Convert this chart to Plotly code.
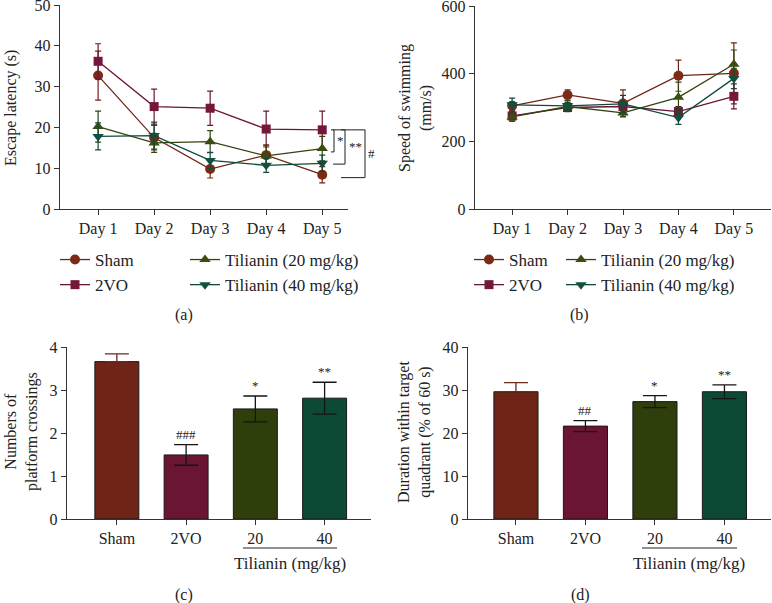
import plotly.graph_objects as go

W, H = 772, 603
FONT = "Liberation Serif"

# ---------------- data ----------------
days = ["Day 1", "Day 2", "Day 3", "Day 4", "Day 5"]
groups = ["Sham", "2VO", "Tilianin (20 mg/kg)", "Tilianin (40 mg/kg)"]

# (a) escape latency (s)
lat_sham = [32.7, 17.5, 9.8, 13.2, 8.4]
lat_sham_err = [6.0, 3.0, 2.2, 2.5, 2.0]
lat_2vo = [36.2, 25.1, 24.7, 19.6, 19.4]
lat_2vo_err = [4.3, 4.3, 4.2, 4.4, 4.6]
lat_t20 = [20.2, 16.2, 16.5, 13.0, 14.8]
lat_t20_err = [3.8, 2.3, 2.7, 2.5, 3.0]
lat_t40 = [17.8, 18.0, 11.9, 10.7, 11.2]
lat_t40_err = [3.3, 3.3, 2.0, 1.7, 2.0]

# (b) swimming speed (mm/s)
spd_sham = [305, 337, 312, 394, 401]
spd_sham_err = [12, 15, 40, 46, 90]
spd_2vo = [275, 300, 303, 288, 333]
spd_2vo_err = [15, 12, 12, 15, 37]
spd_t20 = [272, 303, 284, 330, 428]
spd_t20_err = [12, 12, 10, 45, 42]
spd_t40 = [308, 305, 311, 270, 386]
spd_t40_err = [20, 15, 25, 20, 30]

# (c) platform crossings, (d) target-quadrant duration
bar_labels = ["Sham", "2VO", "20", "40"]
cross = [3.66, 1.49, 2.56, 2.81]
cross_err = [0.18, 0.24, 0.30, 0.37]
cross_sig = ["", "###", "*", "**"]
dur = [29.6, 21.6, 27.3, 29.6]
dur_err = [2.1, 1.3, 1.4, 1.6]
dur_sig = ["", "##", "*", "**"]

line_colors = ["#6e2416", "#6b1535", "#33440f", "#0f4a38"]
marker_colors = ["#7c2a14", "#74173a", "#3a4c10", "#115040"]
bar_colors = ["#6e2416", "#6b1535", "#2f3f0c", "#0d4a35"]
symbols = ["circle", "square", "triangle-up", "triangle-down"]

# ---------------- geometry (pixels -> paper) ----------------
def px(x):
    return x / W

def py(y):
    return 1 - y / H

dom = {
    "a": dict(x=[px(60), px(348)], y=[py(209), py(5)]),
    "b": dict(x=[px(475), px(771)], y=[py(209), py(6)]),
    "c": dict(x=[px(67), px(371)], y=[py(519), py(347)]),
    "d": dict(x=[px(468), px(771)], y=[py(519), py(347)]),
}
rng = {
    "a": dict(x=[-0.68, 4.46], y=[0, 50]),
    "b": dict(x=[-0.67, 4.67], y=[0, 600]),
    "c": dict(x=[-0.72, 3.67], y=[0, 4]),
    "d": dict(x=[-0.69, 3.67], y=[0, 40]),
}

def ypaper(panel, v):
    d, r = dom[panel]["y"], rng[panel]["y"]
    return d[0] + (v - r[0]) / (r[1] - r[0]) * (d[1] - d[0])

fig = go.Figure()

# ---------------- line panels ----------------
xs = list(range(len(days)))
lat = [(lat_sham, lat_sham_err), (lat_2vo, lat_2vo_err), (lat_t20, lat_t20_err), (lat_t40, lat_t40_err)]
spd = [(spd_sham, spd_sham_err), (spd_2vo, spd_2vo_err), (spd_t20, spd_t20_err), (spd_t40, spd_t40_err)]
leg_a = ["legend", "legend", "legend2", "legend2"]
leg_b = ["legend3", "legend3", "legend4", "legend4"]

for data, xa, ya, legs in [(lat, "x", "y", leg_a), (spd, "x2", "y2", leg_b)]:
    for i, (vals, errs) in enumerate(data):
        fig.add_trace(go.Scatter(
            x=xs, y=vals, xaxis=xa, yaxis=ya, name=groups[i], legend=legs[i],
            mode="lines+markers",
            line=dict(color=line_colors[i], width=1.3),
            marker=dict(symbol=symbols[i], size=10 if i != 1 else 9, color=marker_colors[i]),
            error_y=dict(type="data", array=errs, color=line_colors[i], thickness=1.2, width=3),
        ))

# ---------------- bar panels ----------------
for vals, errs, sigs, xa, ya in [(cross, cross_err, cross_sig, "x3", "y3"), (dur, dur_err, dur_sig, "x4", "y4")]:
    for i in range(len(bar_labels)):
        if i == 0:
            ey = dict(type="data", array=[errs[i]], arrayminus=[0], symmetric=False,
                      color="#6a2a1c", thickness=1.3, width=12)
        else:
            ey = dict(type="data", array=[errs[i]], color="#151515", thickness=1.3, width=12)
        fig.add_trace(go.Bar(
            x=[i], y=[vals[i]], xaxis=xa, yaxis=ya, width=0.635, showlegend=False,
            marker=dict(color=bar_colors[i], line=dict(color="#1a1a1a", width=1)),
            error_y=ey,
        ))
        if sigs[i]:
            fig.add_annotation(x=i, y=vals[i] + errs[i], xref=xa, yref=ya, text=sigs[i],
                               showarrow=False, yanchor="bottom", yshift=1,
                               font=dict(family=FONT, size=13, color="#222222"))

# ---------------- axes ----------------
axis_common = dict(showline=True, linecolor="#333", linewidth=1.4, ticks="outside",
                   ticklen=5, tickwidth=1.3, tickcolor="#333", showgrid=False, zeroline=False,
                   automargin=False, ticklabeloverflow="allow",
                   tickfont=dict(family=FONT, size=16, color="#222"))

fig.update_layout(
    xaxis=dict(domain=dom["a"]["x"], range=rng["a"]["x"], anchor="y", tickvals=xs, ticktext=days, **axis_common),
    yaxis=dict(domain=dom["a"]["y"], range=rng["a"]["y"], anchor="x", tickvals=[0, 10, 20, 30, 40, 50], **axis_common),
    xaxis2=dict(domain=dom["b"]["x"], range=rng["b"]["x"], anchor="y2", tickvals=xs, ticktext=days, **axis_common),
    yaxis2=dict(domain=dom["b"]["y"], range=rng["b"]["y"], anchor="x2", tickvals=[0, 200, 400, 600], **axis_common),
    xaxis3=dict(domain=dom["c"]["x"], range=rng["c"]["x"], anchor="y3", tickvals=[0, 1, 2, 3], ticktext=bar_labels, **axis_common),
    yaxis3=dict(domain=dom["c"]["y"], range=rng["c"]["y"], anchor="x3", tickvals=[0, 1, 2, 3, 4], **axis_common),
    xaxis4=dict(domain=dom["d"]["x"], range=rng["d"]["x"], anchor="y4", tickvals=[0, 1, 2, 3], ticktext=bar_labels, **axis_common),
    yaxis4=dict(domain=dom["d"]["y"], range=rng["d"]["y"], anchor="x4", tickvals=[0, 10, 20, 30, 40], **axis_common),
)

# ---------------- legends ----------------
leg_common = dict(orientation="v", xanchor="left", yanchor="top", bgcolor="rgba(0,0,0,0)",
                  font=dict(family=FONT, size=17, color="#222"), tracegroupgap=0, itemwidth=30)
fig.update_layout(
    legend=dict(x=px(55), y=py(242), **leg_common),
    legend2=dict(x=px(185), y=py(242), **leg_common),
    legend3=dict(x=px(469), y=py(242), **leg_common),
    legend4=dict(x=px(561), y=py(242), **leg_common),
)

# ---------------- text ----------------
def txt(x, y, s, size=16, angle=0, xref="paper", yref="paper"):
    fig.add_annotation(x=x, y=y, xref=xref, yref=yref, text=s, showarrow=False,
                       textangle=angle, font=dict(family=FONT, size=size, color="#222222"),
                       xanchor="center", yanchor="middle")

txt(px(11), py(108), "Escape latency (s)", angle=-90)
txt(px(416), py(108), "Speed of swimming<br>(mm/s)", angle=-90)
txt(px(21), py(432), "Numbers of<br>platform crossings", angle=-90)
txt(px(414), py(432), "Duration within target<br>quadrant (% of 60 s)", angle=-90)

txt(px(184), py(315), "(a)")
txt(px(579), py(315), "(b)")
txt(px(184), py(595), "(c)")
txt(px(580), py(595), "(d)")

txt(px(290), py(563), "Tilianin (mg/kg)", size=17)
txt(px(689), py(563), "Tilianin (mg/kg)", size=17)
fig.add_shape(type="line", xref="paper", yref="paper", x0=px(243), x1=px(337), y0=py(548), y1=py(548),
              line=dict(color="#222", width=1.2))
fig.add_shape(type="line", xref="paper", yref="paper", x0=px(642), x1=px(737), y0=py(548), y1=py(548),
              line=dict(color="#222", width=1.2))

# significance brackets in (a)
top = ypaper("a", lat_2vo[-1])
brackets = [(px(334), ypaper("a", 14.0), px(331), "*", px(340), 16.9),
            (px(345), ypaper("a", 11.0), px(333), "**", px(355), 15.2),
            (px(365), ypaper("a", 7.7), px(341), "#", px(371), 13.6)]
for xv, ylow, xstart, lab, lx, ly in brackets:
    lc = dict(color="#333", width=1.1)
    fig.add_shape(type="line", xref="paper", yref="paper", x0=xstart, x1=xv, y0=top, y1=top, line=lc)
    fig.add_shape(type="line", xref="paper", yref="paper", x0=xv, x1=xv, y0=top, y1=ylow, line=lc)
    fig.add_shape(type="line", xref="paper", yref="paper", x0=xstart, x1=xv, y0=ylow, y1=ylow, line=lc)
    txt(lx, ypaper("a", ly), lab, size=13)

fig.update_layout(width=W, height=H, margin=dict(l=0, r=0, t=0, b=0, autoexpand=False),
                  plot_bgcolor="white", paper_bgcolor="white",
                  font=dict(family=FONT, color="#222"), showlegend=True)

fig.write_html("out.html", config={"displayModeBar": False},
               post_script="document.body.style.margin='0';document.body.style.overflow='hidden';")
